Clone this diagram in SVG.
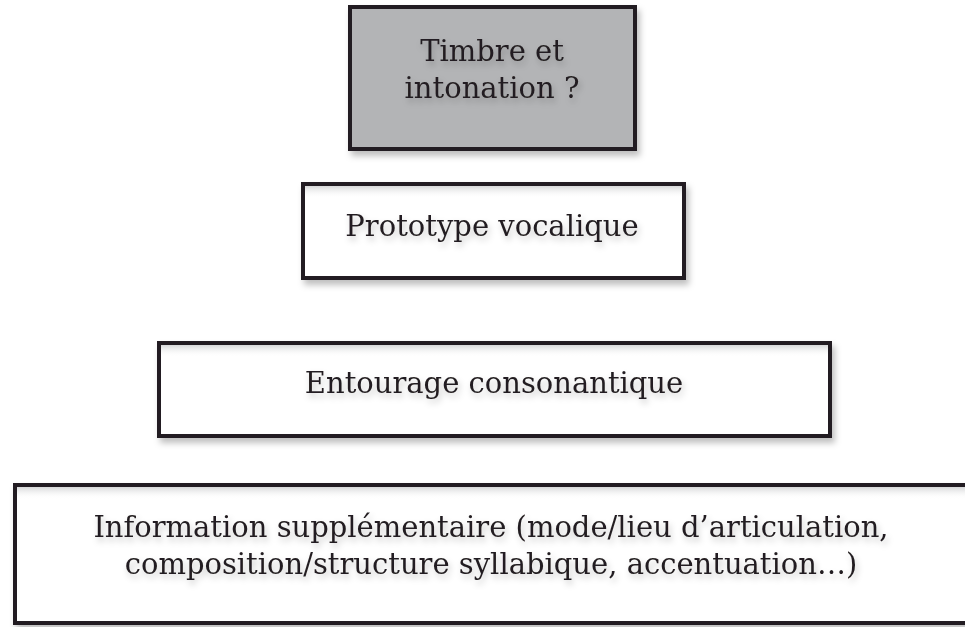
<svg xmlns="http://www.w3.org/2000/svg" width="965" height="627" viewBox="0 0 965 627">
<defs>
<filter id="sh" x="-10%" y="-10%" width="130%" height="140%">
<feDropShadow dx="3" dy="5" stdDeviation="3" flood-color="#000" flood-opacity="0.25"/>
</filter>
<filter id="tsh" x="-10%" y="-30%" width="120%" height="180%">
<feDropShadow dx="2" dy="4" stdDeviation="3" flood-color="#000" flood-opacity="0.22"/>
</filter>
<linearGradient id="topfade" x1="0" y1="0" x2="0" y2="1">
<stop offset="0" stop-color="#d6d7d8"/>
<stop offset="1" stop-color="#ffffff" stop-opacity="0"/>
</linearGradient>
</defs>
<style>
.box{stroke:#231f20;stroke-width:4}
.w{fill:#ffffff}
.g{fill:#b3b4b6}
.t{font-family:"DejaVu Serif","Liberation Serif",serif;font-size:29px;fill:#231f20;text-anchor:middle}
</style>
<rect width="965" height="627" fill="#ffffff"/>
<g id="n1">
<rect class="box g" x="350" y="7" width="285" height="142" filter="url(#sh)"/>
<text class="t" x="492" y="61" filter="url(#tsh)">Timbre et</text>
<text class="t" x="492" y="98" filter="url(#tsh)">intonation ?</text>
</g>
<g id="n2">
<rect class="box w" x="303" y="184" width="381" height="94" filter="url(#sh)"/>
<rect x="305" y="186" width="377" height="12" fill="url(#topfade)"/>
<text class="t" x="492" y="236" filter="url(#tsh)">Prototype vocalique</text>
</g>
<g id="n3">
<rect class="box w" x="159" y="343" width="671" height="93" filter="url(#sh)"/>
<rect x="161" y="345" width="667" height="12" fill="url(#topfade)"/>
<text class="t" x="494" y="393" filter="url(#tsh)">Entourage consonantique</text>
</g>
<g id="n4">
<rect class="box w" x="15" y="485" width="960" height="138" filter="url(#sh)"/>
<rect x="17" y="487" width="956" height="12" fill="url(#topfade)"/>
<text class="t" x="491" y="537" filter="url(#tsh)">Information supplémentaire (mode/lieu d’articulation,</text>
<text class="t" x="491" y="574" filter="url(#tsh)">composition/structure syllabique, accentuation…)</text>
</g>
<g id="connectors"/>
</svg>
